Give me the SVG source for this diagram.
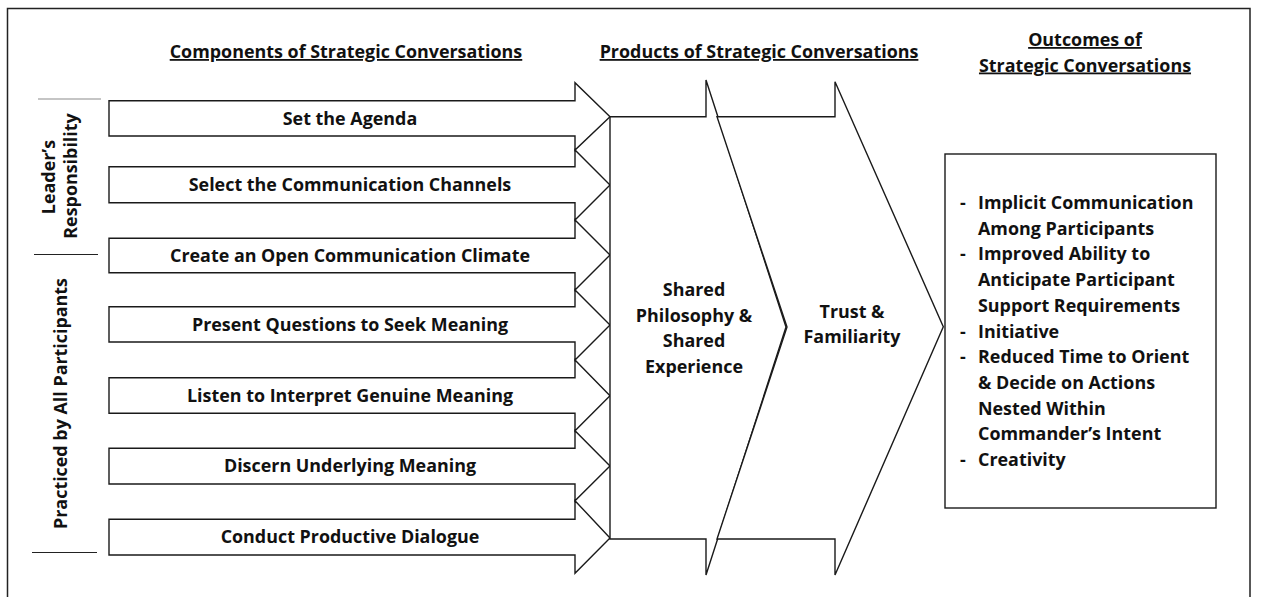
<svg xmlns="http://www.w3.org/2000/svg" width="1271" height="597" viewBox="0 0 1271 597">
  <style>
    .frame { fill: none; stroke: #222; stroke-width: 1.5; }
    .shape { fill: #fff; stroke: #1a1a1a; stroke-width: 1.4; stroke-linejoin: miter; }
    .rule { stroke: #222; stroke-width: 1.2; }
    .rule-light { stroke: #8c8c8c; stroke-width: 1.2; }
    text { font-family: "Open Sans", "Liberation Sans", sans-serif; font-weight: bold; font-size: 17.9px; fill: #111; }
    .head { text-decoration: underline; }
    .mid { text-anchor: middle; }
  </style>

  <rect width="1271" height="597" fill="#fff"/>
  <!-- outer frame, runs past the bottom edge -->
  <rect class="frame" x="7.5" y="8.5" width="1242.5" height="600"/>

  <!-- column headings -->
  <g id="headings">
    <text class="head mid" x="346" y="58">Components of Strategic Conversations</text>
    <text class="head mid" x="759" y="58">Products of Strategic Conversations</text>
    <text class="head mid" x="1085" y="46">Outcomes of</text>
    <text class="head mid" x="1085" y="71.5">Strategic Conversations</text>
  </g>

  <!-- side groupings -->
  <g id="side-labels">
    <line class="rule-light" x1="38" y1="99" x2="101" y2="99"/>
    <line class="rule" x1="34" y1="254.5" x2="98" y2="254.5"/>
    <line class="rule" x1="32" y1="552.5" x2="97" y2="552.5"/>
    <text class="mid" transform="translate(55,177) rotate(-90)">Leader’s</text>
    <text class="mid" transform="translate(77,176) rotate(-90)">Responsibility</text>
    <text class="mid" transform="translate(67,403.5) rotate(-90)">Practiced by All Participants</text>
  </g>

  <!-- component arrows -->
  <g id="component-arrows">
    <g id="arrow-agenda">
      <polygon class="shape" points="109,100.7 575,100.7 575,82.7 610,116.7 575,150 575,136 109,136"/>
      <text class="mid" x="350" y="124.5">Set the Agenda</text>
    </g>
    <g id="arrow-channels">
      <polygon class="shape" points="109,166.7 575,166.7 575,150 610,185 575,220 575,202.7 109,202.7"/>
      <text class="mid" x="350" y="191">Select the Communication Channels</text>
    </g>
    <g id="arrow-climate">
      <polygon class="shape" points="109,238.3 575,238.3 575,220 610,255 575,290 575,272.7 109,272.7"/>
      <text class="mid" x="350" y="261.5">Create an Open Communication Climate</text>
    </g>
    <g id="arrow-questions">
      <polygon class="shape" points="109,306.7 575,306.7 575,290 610,325 575,360 575,342 109,342"/>
      <text class="mid" x="350" y="330.5">Present Questions to Seek Meaning</text>
    </g>
    <g id="arrow-listen">
      <polygon class="shape" points="109,377.7 575,377.7 575,360 610,395.7 575,430.7 575,413.3 109,413.3"/>
      <text class="mid" x="350" y="401.5">Listen to Interpret Genuine Meaning</text>
    </g>
    <g id="arrow-discern">
      <polygon class="shape" points="109,448.3 575,448.3 575,430.7 610,466 575,500.7 575,484 109,484"/>
      <text class="mid" x="350" y="472">Discern Underlying Meaning</text>
    </g>
    <g id="arrow-dialogue">
      <polygon class="shape" points="109,519.3 575,519.3 575,500.7 610,538 575,573.3 575,555 109,555"/>
      <text class="mid" x="350" y="543">Conduct Productive Dialogue</text>
    </g>
  </g>

  <!-- products -->
  <g id="product-shared">
    <polygon class="shape" points="610,116.7 706,116.7 706,80 786,327 706,575 706,539 610,539"/>
    <text class="mid" x="694" y="296">Shared</text>
    <text class="mid" x="694" y="321.5">Philosophy &amp;</text>
    <text class="mid" x="694" y="347">Shared</text>
    <text class="mid" x="694" y="372.5">Experience</text>
  </g>
  <g id="product-trust">
    <polygon class="shape" points="717,116.7 835,116.7 835,81.7 943.3,326.7 835,575 835,539 717,539 787,327"/>
    <text class="mid" x="852" y="317.5">Trust &amp;</text>
    <text class="mid" x="852" y="343">Familiarity</text>
  </g>

  <!-- outcomes -->
  <g id="outcomes">
    <rect class="shape" x="945" y="154" width="271" height="354"/>
    <text x="960" y="209">-</text><text x="978" y="209">Implicit Communication</text>
    <text x="978" y="234.7">Among Participants</text>
    <text x="960" y="260.4">-</text><text x="978" y="260.4">Improved Ability to</text>
    <text x="978" y="286">Anticipate Participant</text>
    <text x="978" y="311.8">Support Requirements</text>
    <text x="960" y="337.5">-</text><text x="978" y="337.5">Initiative</text>
    <text x="960" y="363">-</text><text x="978" y="363">Reduced Time to Orient</text>
    <text x="978" y="389">&amp; Decide on Actions</text>
    <text x="978" y="414.6">Nested Within</text>
    <text x="978" y="440.3">Commander’s Intent</text>
    <text x="960" y="466">-</text><text x="978" y="466">Creativity</text>
  </g>

  <!-- no separate connectors: arrow shapes carry the flow -->
  <g id="connectors"/>
</svg>
